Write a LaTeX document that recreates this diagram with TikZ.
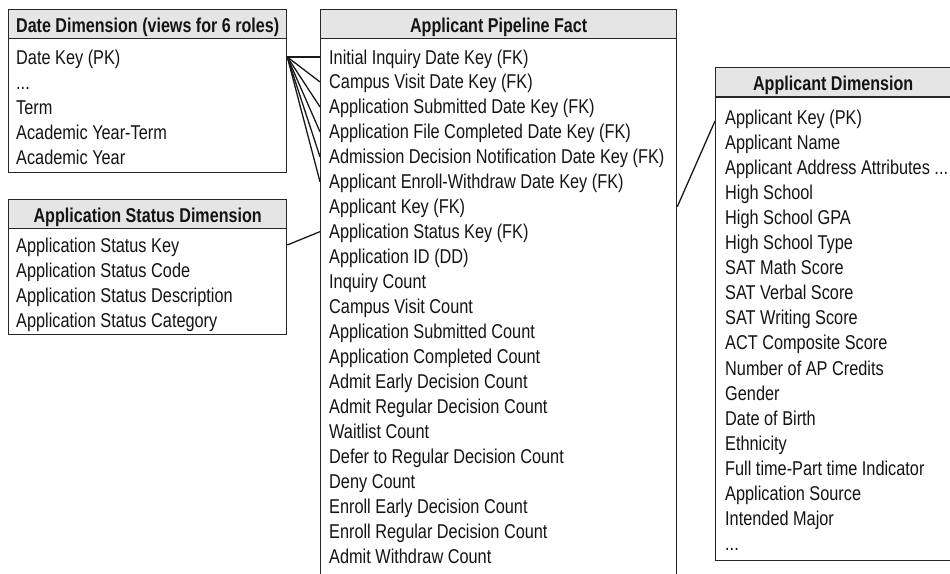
\documentclass[tikz,border=0pt]{standalone}
\usepackage{fontspec}
\setmainfont{Liberation Sans}[FakeStretch=0.815, BoldFeatures={FakeStretch=0.805}]
\def\mydots{...}
\begin{document}
\begin{tikzpicture}[x=1pt,y=-1pt,
  every node/.style={text=black!92},
  hdr/.style={draw=black!85, line width=1.3pt, fill=black!10, minimum height=29pt,
    inner sep=0pt, text height=17.6pt, text depth=0pt,
    font=\fontsize{20}{23}\selectfont\bfseries, anchor=north west},
  tbody/.style={draw=black!85, line width=1.3pt, fill=white, inner sep=0pt, anchor=north west},
  row/.style={inner sep=0pt, text height=16pt, text depth=2pt, anchor=west,
    font=\fontsize{20}{23}\selectfont},
  conn/.style={draw=black!90, line width=1.3pt}]
\useasboundingbox (0,0) rectangle (950,573);
\fill[white] (0,0) rectangle (950,573);

% Date Dimension
\node[tbody, minimum width=278pt, minimum height=134pt] (db) at (8,38) {};
\node[hdr, minimum width=278pt] (dh) at (8,9) {Date Dimension (views for 6 roles)};
\foreach \t [count=\i from 0] in {Date Key (PK),\mydots,Term,Academic Year-Term,Academic Year}
  \node[row] (d\i) at (16,{57+25*\i}) {\t};

% Application Status Dimension
\node[tbody, minimum width=278pt, minimum height=106pt] (sb) at (8,228) {};
\node[hdr, minimum width=278pt] (sh) at (8,199) {Application Status Dimension};
\foreach \t [count=\i from 0] in {Application Status Key,Application Status Code,Application Status Description,Application Status Category}
  \node[row] (s\i) at (16,{245+25.3*\i}) {\t};

% Applicant Pipeline Fact
\node[tbody, minimum width=356pt, minimum height=560pt] (fb) at (320,38) {};
\node[hdr, minimum width=356pt] (fh) at (320,9) {Applicant Pipeline Fact};
\foreach \t [count=\i from 0] in {Initial Inquiry Date Key (FK),Campus Visit Date Key (FK),Application Submitted Date Key (FK),Application File Completed Date Key (FK),Admission Decision Notification Date Key (FK),Applicant Enroll-Withdraw Date Key (FK),Applicant Key (FK),Application Status Key (FK),Application ID (DD),Inquiry Count,Campus Visit Count,Application Submitted Count,Application Completed Count,Admit Early Decision Count,Admit Regular Decision Count,Waitlist Count,Defer to Regular Decision Count,Deny Count,Enroll Early Decision Count,Enroll Regular Decision Count,Admit Withdraw Count}
  \node[row] (f\i) at (329,{57+24.95*\i}) {\t};

% Applicant Dimension
\node[tbody, minimum width=250pt, minimum height=463pt] (ab) at (715,97) {};
\node[hdr, minimum width=250pt] (ah) at (715,67) {\hspace*{-15pt}Applicant Dimension};
\foreach \t [count=\i from 0] in {Applicant Key (PK),Applicant Name,Applicant Address Attributes \mydots,High School,High School GPA,High School Type,SAT Math Score,SAT Verbal Score,SAT Writing Score,ACT Composite Score,Number of AP Credits,Gender,Date of Birth,Ethnicity,Full time-Part time Indicator,Application Source,Intended Major,\mydots}
  \node[row] (a\i) at (725,{117+25.1*\i}) {\t};

% Connectors
\foreach \i in {0,...,5}
  \draw[conn] (db.east |- d0) -- (fb.west |- f\i);
\draw[conn] (sb.east |- s0) -- (fb.west |- f7);
\draw[conn] (fb.east |- f6) -- ([yshift=-4pt]ab.west |- a0);
\end{tikzpicture}
\end{document}
